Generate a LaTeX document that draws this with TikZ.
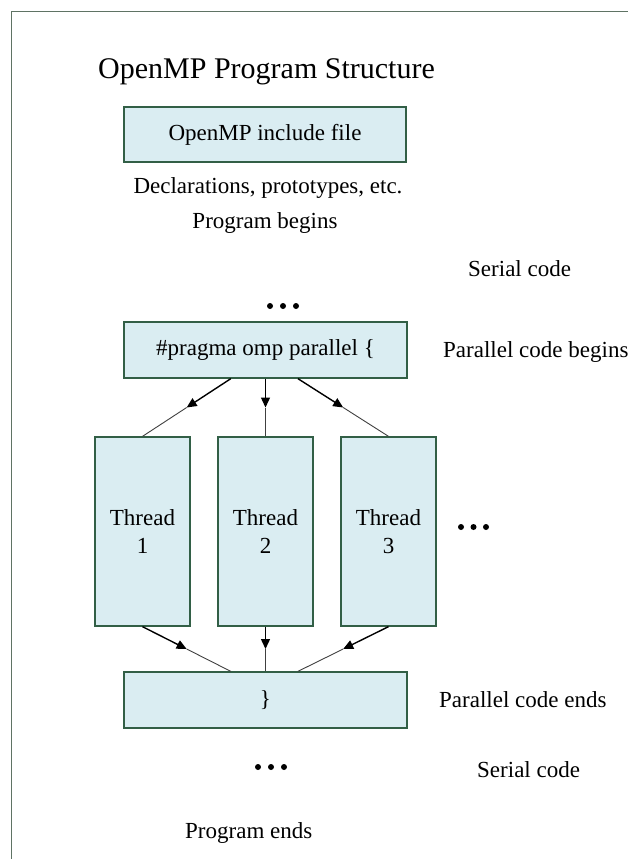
\documentclass[tikz,border=0pt]{standalone}
\usepackage{fontspec}
\setmainfont{Liberation Serif}
\usetikzlibrary{arrows.meta,calc}
\definecolor{boxfill}{RGB}{218,237,242}
\definecolor{boxedge}{RGB}{50,95,70}
\definecolor{frameedge}{RGB}{95,115,100}

\begin{document}
\begin{tikzpicture}[x=1pt,y=-1pt,
  bodytext/.style={font=\fontsize{23}{28}\selectfont, inner sep=0pt},
  blockbox/.style={draw=boxedge, fill=boxfill, line width=1.3pt, inner sep=0pt,
    align=center, font=\fontsize{23}{28}\selectfont},
  threadbox/.style={blockbox, minimum width=95pt, minimum height=189pt},
  flowhead/.style={line width=1.4pt, -{Triangle[length=10pt,width=9pt]}},
  flowtail/.style={line width=0.9pt, black!75},
  dotmark/.style={circle, fill=black, inner sep=0pt, minimum size=6pt}
]
\useasboundingbox (0,0) rectangle (627,859);
\draw[frameedge, line width=1pt] (11,880) -- (11,12) -- (650,12);

% title
\node[anchor=base west, inner sep=0pt, font=\fontsize{30}{36}\selectfont] (title) at (98,78) {OpenMP Program Structure};

% serial header part
\node[blockbox, minimum width=282pt, minimum height=55pt] (inc) at (265,134.5) {OpenMP include file};
\node[bodytext, anchor=base] (decl) at (268,193) {Declarations, prototypes, etc.};
\node[bodytext, anchor=base] (pbegin) at (265,228) {Program begins};
\node[bodytext, anchor=base west] (serA) at (468,276) {Serial code};

\node[dotmark] (da1) at (270,306) {};
\node[dotmark] (da2) at (283,306) {};
\node[dotmark] (da3) at (296,306) {};

% parallel region
\node[blockbox, minimum width=283pt, minimum height=56pt] (pragma) at (265.5,350) {\#pragma omp parallel \{};
\node[bodytext, anchor=base west] (pcbegin) at (443,357) {Parallel code begins};

\node[threadbox] (t1) at (142.5,531.5) {Thread\\1};
\node[threadbox] (t2) at (265.5,531.5) {Thread\\2};
\node[threadbox] (t3) at (388.5,531.5) {Thread\\3};

\node[dotmark] (db1) at (461,527) {};
\node[dotmark] (db2) at (473.5,527) {};
\node[dotmark] (db3) at (486,527) {};

\node[blockbox, minimum width=283pt, minimum height=56pt] (close) at (265.5,700) {\}};
\node[bodytext, anchor=base west] (pcend) at (439,707) {Parallel code ends};

% fork connectors
\coordinate (f1) at ($(pragma.south west)!0.378!(pragma.south east)$);
\coordinate (f2) at ($(pragma.south west)!0.5!(pragma.south east)$);
\coordinate (f3) at ($(pragma.south west)!0.614!(pragma.south east)$);
\foreach \s/\t in {f1/t1, f2/t2, f3/t3} {
  \coordinate (m) at ($(\s)!0.5!(\t.north)$);
  \draw[flowhead] (\s) -- (m);
  \draw[flowtail] (m) -- (\t.north);
}

% join connectors
\coordinate (j1) at ($(close.north west)!0.378!(close.north east)$);
\coordinate (j2) at ($(close.north west)!0.5!(close.north east)$);
\coordinate (j3) at ($(close.north west)!0.614!(close.north east)$);
\foreach \s/\t in {t1/j1, t2/j2, t3/j3} {
  \coordinate (m) at ($(\s.south)!0.5!(\t)$);
  \draw[flowhead] (\s.south) -- (m);
  \draw[flowtail] (m) -- (\t);
}

% trailing serial part
\node[dotmark] (dc1) at (258,767) {};
\node[dotmark] (dc2) at (271,767) {};
\node[dotmark] (dc3) at (284,767) {};
\node[bodytext, anchor=base west] (serB) at (477,777) {Serial code};
\node[bodytext, anchor=base west] (pend) at (185,838) {Program ends};
\end{tikzpicture}
\end{document}
